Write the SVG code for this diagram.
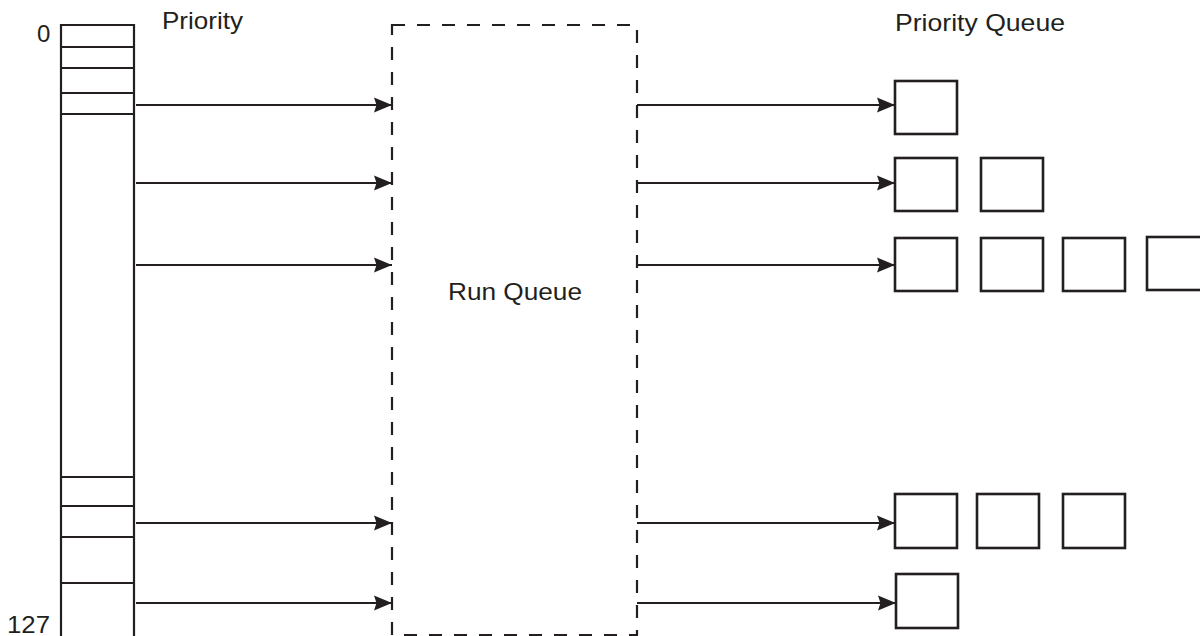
<svg xmlns="http://www.w3.org/2000/svg" width="1200" height="636" viewBox="0 0 1200 636">
<defs>
<style>
.ln{stroke:#231f20;stroke-width:2.2;fill:none}
.bx{stroke:#231f20;stroke-width:2.6;fill:#fff}
.ds{stroke:#231f20;stroke-width:2.2;fill:none;stroke-dasharray:13 12}
.ar{stroke:#231f20;stroke-width:2.2;fill:none;marker-end:url(#ah)}
.tx{font-family:"Liberation Sans",Arial,sans-serif;font-size:24px;fill:#231f20}
</style>
<marker id="ah" markerUnits="userSpaceOnUse" markerWidth="20" markerHeight="16" viewBox="0 0 20 16" refX="18" refY="8" orient="auto">
<path d="M0,0.5 L18,8 L0,15.5 L2.5,8 Z" fill="#231f20"/>
</marker>
</defs>
<rect width="1200" height="636" fill="#fff"/>
<g id="priority-table">
<path class="ln" d="M61,640 V25 H134 V640"/>
<path class="ln" d="M61,47 H134 M61,68 H134 M61,93 H134 M61,114 H134 M61,477 H134 M61,506 H134 M61,537 H134 M61,583 H134"/>
<text class="tx" x="37" y="42">0</text>
<text class="tx" x="7" y="633" textLength="43" lengthAdjust="spacingAndGlyphs">127</text>
<text class="tx" x="162" y="29" textLength="81" lengthAdjust="spacingAndGlyphs">Priority</text>
</g>
<g id="run-queue">
<rect class="ds" x="392" y="25" width="245" height="610"/>
<text class="tx" x="448" y="300" textLength="134" lengthAdjust="spacingAndGlyphs">Run Queue</text>
</g>
<g id="priority-queue">
<text class="tx" x="895" y="31" textLength="170" lengthAdjust="spacingAndGlyphs">Priority Queue</text>
<rect class="bx" x="895" y="81" width="62" height="53"/>
<rect class="bx" x="895" y="158" width="62" height="53"/>
<rect class="bx" x="981" y="158" width="62" height="53"/>
<rect class="bx" x="895" y="238" width="62" height="53"/>
<rect class="bx" x="981" y="238" width="62" height="53"/>
<rect class="bx" x="1063" y="238" width="62" height="53"/>
<rect class="bx" x="1147" y="237" width="62" height="53"/>
<rect class="bx" x="895" y="494" width="62" height="54"/>
<rect class="bx" x="977" y="494" width="62" height="54"/>
<rect class="bx" x="1063" y="494" width="62" height="54"/>
<rect class="bx" x="896" y="574" width="62" height="54"/>
</g>
<g id="connectors">
<line class="ar" x1="136" y1="105" x2="392" y2="105"/>
<line class="ar" x1="136" y1="183" x2="392" y2="183"/>
<line class="ar" x1="136" y1="265" x2="392" y2="265"/>
<line class="ar" x1="136" y1="523" x2="392" y2="523"/>
<line class="ar" x1="136" y1="603" x2="392" y2="603"/>
<line class="ar" x1="637" y1="105" x2="895" y2="105"/>
<line class="ar" x1="637" y1="183" x2="895" y2="183"/>
<line class="ar" x1="637" y1="265" x2="895" y2="265"/>
<line class="ar" x1="637" y1="523" x2="895" y2="523"/>
<line class="ar" x1="637" y1="603" x2="896" y2="603"/>
</g>
</svg>
